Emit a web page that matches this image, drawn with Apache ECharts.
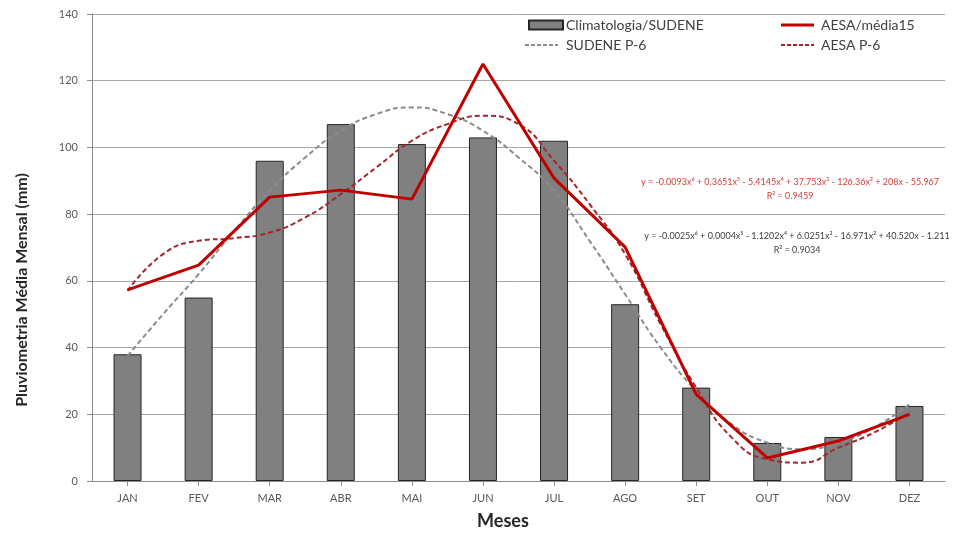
<!DOCTYPE html>
<html>
<head>
<meta charset="utf-8">
<script src="https://cdn.jsdelivr.net/npm/echarts@6/dist/echarts.min.js"></script>
<style>
html,body{margin:0;padding:0;background:#fff;}
#chart{width:965px;height:533px;}
</style>
</head>
<body>
<div id="chart"></div>
<script>
var months = ['JAN','FEV','MAR','ABR','MAI','JUN','JUL','AGO','SET','OUT','NOV','DEZ'];
var yTicks = [0, 20, 40, 60, 80, 100, 120, 140];
var climatologiaSudene = [38, 55, 96, 107, 101, 103, 102, 53, 28, 11.4, 13.2, 22.5];
var aesaMedia15 = [57.3, 64.7, 85.1, 87.2, 84.5, 125, 90.8, 70.1, 26, 6.9, 12, 20];
// trend curves at half-month steps (x = month number)
var trendX = [1,1.5,2,2.5,3,3.5,4,4.5,5,5.5,6,6.5,7,7.5,8,8.5,9,9.5,10,10.5,11,11.5,12];
var sudeneP6 = [37.5,50,62,75,87,97,105,110,112,110,105,97,87,72,56,40,27,17,11.5,9.5,11.5,16,23];
var aesaP6 = [57,68,72,72.8,74.5,79,86,94,102,107,109.5,107,96,83,68,47,28,13,6.5,5.5,10,14.5,20.5];
var eqAesa = 'y = -0.0093x\u2076 + 0.3651x\u2075 - 5.4145x\u2074 + 37.753x\u00b3 - 126.36x\u00b2 + 208x - 55.967';
var r2Aesa = 'R\u00b2 = 0.9459';
var eqSudene = 'y = -0.0025x\u2076 + 0.0004x\u2075 - 1.1202x\u2074 + 6.0251x\u00b3 - 16.971x\u00b2 + 40.520x - 1.211';
var r2Sudene = 'R\u00b2 = 0.9034';

function pairs(xs, ys){ return xs.map(function(x,i){ return [x, ys[i]]; }); }

var FONT = 'Lato, "Open Sans", sans-serif';
var C_GRAY = '#8c8c8c', C_DRED = '#a3262a', C_RED = '#c00000';
function swatch(x1, x2, y, color, width, dash){
  return {type:'line', shape:{x1:x1, y1:y, x2:x2, y2:y},
          style:{stroke:color, lineWidth:width, lineDash:dash || null}, z:10};
}
var chart = echarts.init(document.getElementById('chart'), null, {renderer:'canvas'});
chart.setOption({
  animation:false,
  backgroundColor:'#ffffff',
  textStyle:{fontFamily:FONT},
  grid:{left:92, right:20, top:14, bottom:52, containLabel:false},
  legend:[
    {left:523, top:13, orient:'vertical', itemGap:6, itemWidth:34, itemHeight:9,
     textStyle:{fontFamily:FONT, fontSize:14, color:'#404040', padding:[0,0,0,-2]},
     data:[{name:'Climatologia/SUDENE', icon:'rect'}, {name:'SUDENE P-6', icon:'none'}]},
    {left:779, top:13, orient:'vertical', itemGap:6, itemWidth:34, itemHeight:9,
     textStyle:{fontFamily:FONT, fontSize:14, color:'#404040', padding:[0,0,0,-2]},
     data:[{name:'AESA/média15', icon:'none'}, {name:'AESA P-6', icon:'none'}]}
  ],
  xAxis:[
    {type:'category', data:months, boundaryGap:true,
     axisLine:{lineStyle:{color:'#8c8c8c', width:1}},
     axisTick:{show:true, alignWithLabel:true, length:5, lineStyle:{color:'#8c8c8c'}},
     axisLabel:{fontFamily:FONT, fontSize:11, color:'#595959', margin:12}},
    {type:'value', min:0.5, max:12.5, show:false}
  ],
  yAxis:{type:'value', min:0, max:140, interval:20,
     axisLine:{show:true, lineStyle:{color:'#8c8c8c'}},
     axisTick:{show:true, length:5, lineStyle:{color:'#8c8c8c'}},
     axisLabel:{fontFamily:FONT, fontSize:11, color:'#595959', margin:14,
       formatter:function(v){ return yTicks.indexOf(v) >= 0 ? String(v) : ''; }},
     splitLine:{show:true, lineStyle:{color:'#a6a6a6', width:1}}
  },
  graphic:[
    swatch(525, 558, 45, C_GRAY, 2, [4,2]),
    swatch(781, 814, 25, C_RED, 3),
    swatch(781, 814, 45, C_DRED, 2, [4,2]),
    {type:'text', x:22, y:290, rotation:Math.PI/2,
     style:{text:'Pluviometria Média Mensal (mm)', font:'bold 16px '+FONT, fill:'#262626', align:'center', verticalAlign:'middle'}},
    {type:'text', x:503, y:521,
     style:{text:'Meses', font:'bold 18px '+FONT, fill:'#262626', align:'center', verticalAlign:'middle'}},
    {type:'text', x:790, y:182,
     style:{text:eqAesa, font:'9px '+FONT, fill:'#d0403c', align:'center', verticalAlign:'middle'}},
    {type:'text', x:790, y:196,
     style:{text:r2Aesa, font:'9px '+FONT, fill:'#d0403c', align:'center', verticalAlign:'middle'}},
    {type:'text', x:797, y:236,
     style:{text:eqSudene, font:'9px '+FONT, fill:'#404040', align:'center', verticalAlign:'middle'}},
    {type:'text', x:797, y:250,
     style:{text:r2Sudene, font:'9px '+FONT, fill:'#404040', align:'center', verticalAlign:'middle'}}
  ],
  series:[
    {name:'Climatologia/SUDENE', type:'bar', data:climatologiaSudene, barWidth:28,
     itemStyle:{color:'#808080', borderColor:'#262626', borderWidth:1}, z:1},
    {name:'SUDENE P-6', type:'line', xAxisIndex:1, data:pairs(trendX, sudeneP6), smooth:true,
     symbol:'none', lineStyle:{color:C_GRAY, width:2, type:[5,3]}, itemStyle:{color:C_GRAY}, z:3},
    {name:'AESA P-6', type:'line', xAxisIndex:1, data:pairs(trendX, aesaP6), smooth:true,
     symbol:'none', lineStyle:{color:C_DRED, width:2, type:[5,3]}, itemStyle:{color:C_DRED}, z:3},
    {name:'AESA/média15', type:'line', data:aesaMedia15, symbol:'none',
     lineStyle:{color:C_RED, width:3}, itemStyle:{color:C_RED}, z:4}
  ]
});
</script>
</body>
</html>
